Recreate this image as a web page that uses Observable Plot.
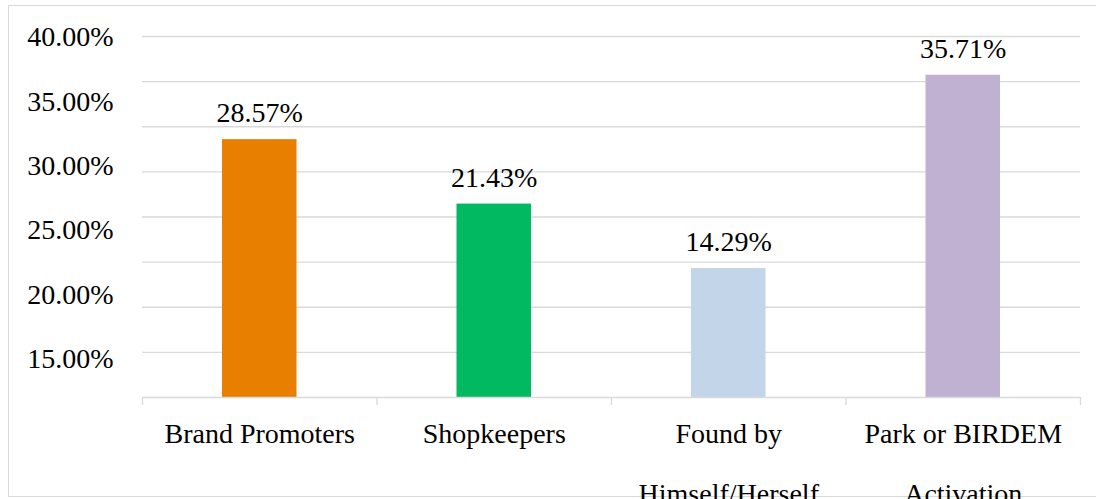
<!DOCTYPE html>
<html><head><meta charset="utf-8">
<script src="https://cdn.jsdelivr.net/npm/d3@7"></script>
<script src="https://cdn.jsdelivr.net/npm/@observablehq/plot@0.6"></script>
<style>
html,body{margin:0;padding:0;background:#fff;}
#wrap{position:relative;width:1096px;height:499px;overflow:hidden;background:#fff;}
#frame{position:absolute;left:8px;top:5px;width:1100px;height:490px;border:1.5px solid #d9d9d9;}
#main{position:absolute;left:0;top:0;}
#yaxis{position:absolute;left:0;top:0;width:140px;height:414px;overflow:hidden;}
</style></head><body>
<div id="wrap"><div id="frame"></div><div id="main"></div><div id="yaxis"></div></div>
<script>
const categories = ["Brand Promoters", "Shopkeepers", "Found by\nHimself/Herself", "Park or BIRDEM\nActivation"];
const values = [28.57, 21.43, 14.29, 35.71];
const colors = ["#E97F00", "#00B960", "#C3D5E8", "#C0B1D3"];
const gridValues = [5, 10, 15, 20, 25, 30, 35, 40];
const yTickLabels = [40, 35, 30, 25, 20, 15, 10];

const data = categories.map((c, i) => ({category: c, index: i, value: values[i], color: colors[i]}));
const font = "'Liberation Serif', 'Times New Roman', serif";

const main = Plot.plot({
  width: 1096, height: 499,
  marginLeft: 142, marginRight: 16, marginTop: 36, marginBottom: 102,
  style: {fontFamily: font, fontSize: "28px", color: "#000", background: "transparent", overflow: "visible"},
  x: {domain: [0, categories.length], axis: null},
  y: {domain: [0, 40], axis: null},
  marks: [
    Plot.ruleY(gridValues, {stroke: "#d9d9d9", strokeWidth: 1.3}),
    Plot.rectY(data, {x1: "index", x2: d => d.index + 1, y: "value", fill: "color", insetLeft: 80, insetRight: 80}),
    Plot.ruleY([0], {stroke: "#d9d9d9", strokeWidth: 1.3}),
    Plot.axisX(d3.range(categories.length + 1), {tickSize: 8, stroke: "#d9d9d9", strokeWidth: 1.3, tickFormat: () => "", label: null}),
    Plot.axisX(data.map(d => d.index + 0.5), {
      tickSize: 0, tickPadding: 3, label: null,
      tickFormat: v => categories[Math.floor(v)],
      lineHeight: 2.14, fontSize: 28, fill: "#000"
    }),
    Plot.text(data, {
      x: d => d.index + 0.5, y: "value",
      text: d => d.value.toFixed(2) + "%",
      lineAnchor: "bottom", dy: -17.5, fontSize: 28, fill: "#000"
    })
  ]
});
document.getElementById("main").appendChild(main);

const yax = Plot.plot({
  width: 140, height: 499,
  marginLeft: 113, marginRight: 0, marginTop: 0, marginBottom: 0,
  style: {fontFamily: font, fontSize: "28px", color: "#000", background: "transparent"},
  y: {domain: [10, 40], range: [423, 37], axis: null},
  marks: [
    Plot.axisY(yTickLabels, {tickSize: 0, tickPadding: 0, tickFormat: d => d.toFixed(2) + "%", fontSize: 28, fill: "#000", label: null})
  ]
});
document.getElementById("yaxis").appendChild(yax);
</script>
</body></html>
